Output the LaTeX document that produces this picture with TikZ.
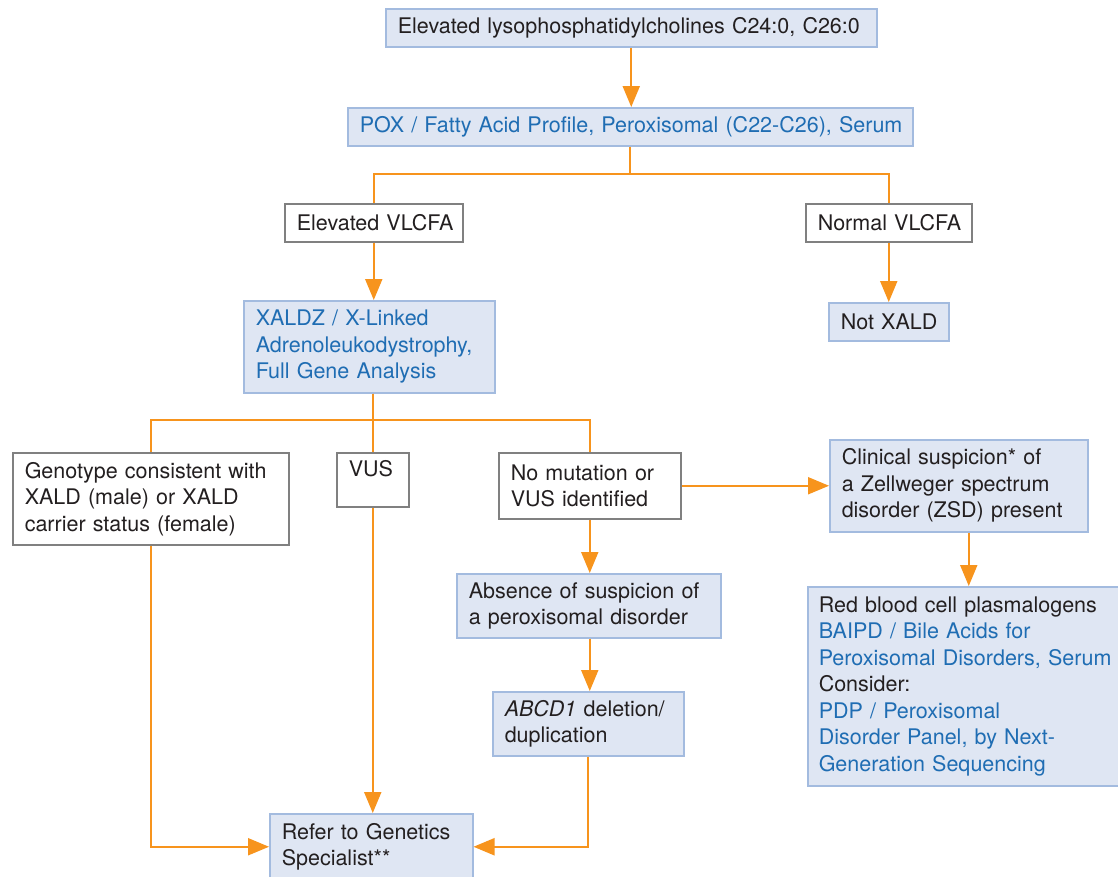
\documentclass[tikz,border=0pt]{standalone}
\usepackage{fontspec}
\setmainfont{TeX Gyre Heros}
\usetikzlibrary{arrows.meta}
\definecolor{orng}{HTML}{F7941D}
\definecolor{bfill}{HTML}{DFE6F3}
\definecolor{bdraw}{HTML}{A3BBDF}
\definecolor{btext}{HTML}{1F6DB3}
\definecolor{dtext}{HTML}{231F20}
\definecolor{gdraw}{HTML}{808080}
\begin{document}
\begin{tikzpicture}[x=1pt,y=-1pt,
 base/.style={anchor=north west, font=\fontsize{21.5}{26.5}\selectfont, align=left, inner xsep=12pt, inner ysep=4pt, line width=1.5pt, text=dtext},
 bluebox/.style={base, fill=bfill, draw=bdraw},
 whitebox/.style={base, fill=white, draw=gdraw},
 link/.style={draw=orng, line width=2pt},
 arr/.style={link, -{Triangle[length=21pt,width=17pt]}}]
\useasboundingbox (0,0) rectangle (1118,876);
\fill[white] (0,0) rectangle (1118,876);

\node[bluebox, minimum width=491pt, minimum height=38pt, text width=467pt] (top) at (385,8) {\mbox{Elevated lysophosphatidylcholines C24:0, C26:0}};
\node[bluebox, text=btext, minimum width=565pt, minimum height=38pt, text width=541pt] (pox) at (347,107) {\mbox{POX / Fatty Acid Profile, Peroxisomal (C22-C26), Serum}};
\node[whitebox, minimum width=178pt, minimum height=38pt, text width=154pt] (elev) at (284,203) {\mbox{Elevated VLCFA}};
\node[whitebox, minimum width=166pt, minimum height=38pt, text width=142pt] (norm) at (805,203) {\mbox{Normal VLCFA}};
\node[bluebox, text=btext, minimum width=251pt, minimum height=92pt, text width=227pt] (xaldz) at (243,300) {\mbox{XALDZ / X-Linked}\\\mbox{Adrenoleukodystrophy,}\\\mbox{Full Gene Analysis}};
\node[bluebox, minimum width=120pt, minimum height=38pt, text width=96pt] (notx) at (828,302) {\mbox{Not XALD}};
\node[whitebox, minimum width=276pt, minimum height=92pt, text width=252pt] (geno) at (12,452) {\mbox{Genotype consistent with}\\\mbox{XALD (male) or XALD}\\\mbox{carrier status (female)}};
\node[whitebox, minimum width=72pt, text width=48pt, inner ysep=8pt, text depth=22pt] (vus) at (336,452) {\mbox{VUS}};
\node[whitebox, minimum width=182pt, minimum height=66pt, text width=158pt] (nomut) at (498,452) {\mbox{No mutation or}\\\mbox{VUS identified}};
\node[bluebox, minimum width=258pt, minimum height=92pt, text width=234pt] (clin) at (829,439) {\mbox{Clinical suspicion* of}\\\mbox{a Zellweger spectrum}\\\mbox{disorder (ZSD) present}};
\node[bluebox, minimum width=264pt, minimum height=64pt, text width=240pt] (abs) at (456,573) {\mbox{Absence of suspicion of}\\\mbox{a peroxisomal disorder}};
\node[bluebox, minimum width=191pt, minimum height=64pt, text width=167pt] (abcd) at (492,691) {\mbox{\textit{ABCD1} deletion/}\\\mbox{duplication}};
\node[bluebox, minimum width=322pt, minimum height=199pt, text width=300pt, inner xsep=11pt] (red) at (807,586) {\mbox{Red blood cell plasmalogens}\\\mbox{\color{btext}BAIPD / Bile Acids for}\\\mbox{\color{btext}Peroxisomal Disorders, Serum}\\\mbox{Consider:}\\\mbox{\color{btext}PDP / Peroxisomal}\\\mbox{\color{btext}Disorder Panel, by Next-}\\\mbox{\color{btext}Generation Sequencing}};
\node[bluebox, minimum width=203pt, minimum height=66pt, text width=179pt] (refer) at (269,813) {\mbox{Refer to Genetics}\\\mbox{Specialist**}};

% connectors
\draw[arr] (top.south) -- (top.south |- pox.north);
\draw[link] (pox.south) -- ++(0,27) -| (elev.north);
\draw[link] (pox.south) -- ++(0,27) -| (norm.north);
\draw[arr] (elev.south) -- (elev.south |- xaldz.north);
\draw[arr] (norm.south) -- (norm.south |- notx.north);
\draw[link] (xaldz.south -| vus.north) -- (vus.north);
\draw[link] (xaldz.south -| vus.north) -- ++(0,26) -| (geno.north);
\draw[link] (xaldz.south -| vus.north) -- ++(0,26) -| (nomut.north);
\draw[arr] (nomut.east) -- (nomut.east -| clin.west);
\draw[arr] (clin.south -| red.north) -- (red.north);
\draw[arr] (nomut.south) -- (nomut.south |- abs.north);
\draw[arr] (abs.south -| nomut.south) -- (abcd.north -| nomut.south);
\draw[arr] (abcd.south) |- (refer.east);
\draw[arr] (geno.south) |- (refer.west);
\draw[arr] (vus.south) -- (vus.south |- refer.north);
\end{tikzpicture}
\end{document}
